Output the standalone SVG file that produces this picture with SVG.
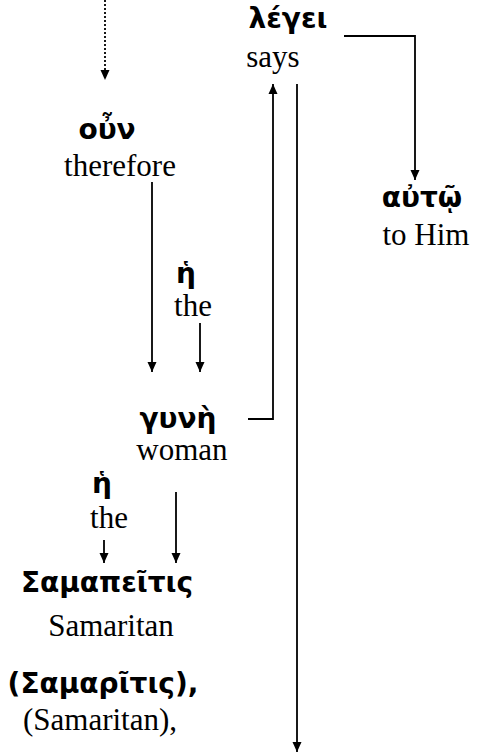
<svg xmlns="http://www.w3.org/2000/svg" width="479" height="755" viewBox="0 0 479 755">
<style>
.gr{font-family:"DejaVu Sans","Noto Sans",sans-serif;font-weight:bold;font-size:28px;fill:#000;text-anchor:middle}
.en{font-family:"Liberation Serif","Times New Roman",serif;font-size:31px;fill:#000;text-anchor:middle}
.ln{stroke:#000;stroke-width:1.8;fill:none}
.dot{stroke:#000;stroke-width:1.8;fill:none;stroke-dasharray:2,2}
</style>
<defs>
<marker id="ah" viewBox="0 0 10 10" refX="10" refY="5" markerWidth="10" markerHeight="10" markerUnits="userSpaceOnUse" orient="auto">
<path d="M0,0.5 L10,5 L0,9.5 z" fill="#000"/>
</marker>
</defs>
<g id="connectors">
<line class="dot" x1="105" y1="0" x2="105" y2="80" marker-end="url(#ah)"/>
<line class="ln" x1="152" y1="182" x2="152" y2="372" marker-end="url(#ah)"/>
<line class="ln" x1="200" y1="323" x2="200" y2="372" marker-end="url(#ah)"/>
<polyline class="ln" points="248,419 273,419 273,84" marker-end="url(#ah)"/>
<line class="ln" x1="297" y1="84" x2="297" y2="752" marker-end="url(#ah)"/>
<polyline class="ln" points="344,36 415,36 415,180" marker-end="url(#ah)"/>
<line class="ln" x1="104" y1="540" x2="104" y2="563" marker-end="url(#ah)"/>
<line class="ln" x1="176" y1="492" x2="176" y2="563" marker-end="url(#ah)"/>
</g>
<g id="oun"><text class="gr" x="107" y="139">οὖν</text><text class="en" x="120" y="176">therefore</text></g>
<g id="legei"><text class="gr" x="288" y="28">λέγει</text><text class="en" x="273" y="67">says</text></g>
<g id="auto"><text class="gr" x="422" y="207">αὐτῷ</text><text class="en" x="426" y="245">to Him</text></g>
<g id="he1"><text class="gr" x="186" y="283">ἡ</text><text class="en" x="193" y="316">the</text></g>
<g id="gune"><text class="gr" x="178" y="428">γυνὴ</text><text class="en" x="182" y="460">woman</text></g>
<g id="he2"><text class="gr" x="102" y="493">ἡ</text><text class="en" x="109" y="528">the</text></g>
<g id="samapeitis"><text class="gr" x="107" y="592">Σαμαπεῖτις</text><text class="en" x="111" y="636">Samaritan</text></g>
<g id="samaritis"><text class="gr" x="103" y="693">(Σαμαρῖτις),</text><text class="en" x="100" y="730">(Samaritan),</text></g>
</svg>
